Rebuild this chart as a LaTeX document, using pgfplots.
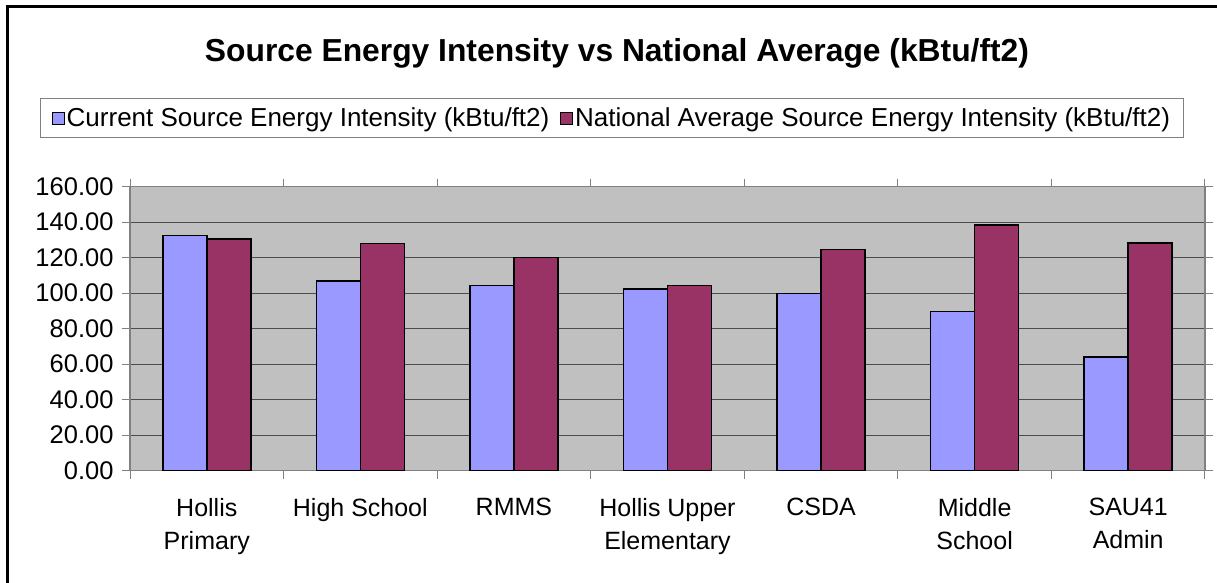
\documentclass[border=0pt]{standalone}
\usepackage{pgfplots}
\pgfplotsset{compat=1.18}
\usepackage{fontspec}
\setmainfont{Liberation Sans}
\definecolor{barblue}{HTML}{9999FF}
\definecolor{barmaroon}{HTML}{993366}
\definecolor{plotbg}{HTML}{C0C0C0}
\definecolor{frameg}{HTML}{808080}
\begin{document}
\begin{tikzpicture}
\useasboundingbox (0,0) rectangle (1217pt,582pt);
\begin{axis}[
  at={(130pt,111.3pt)}, anchor=south west,
  scale only axis, width=1075pt, height=284pt,
  ybar=0pt, bar width=0.2865,
  xmin=-0.5, xmax=6.5, ymin=0, ymax=160,
  ytick={0,20,...,160},
  xtick={0,...,6},
  xticklabels={Hollis\\Primary, High School, RMMS, Hollis Upper\\Elementary, CSDA, Middle\\School, SAU41\\Admin},
  xticklabel style={align=center, font=\fontsize{25}{33}\selectfont, anchor=north, yshift=-16pt},
  minor xtick={-0.5,0.5,...,6.5},
  tick align=outside,
  major tick length=8pt, minor tick length=8pt,
  tick style={draw=frameg, line width=1pt},
  major x tick style={draw=none},
  /pgf/number format/assume math mode=true,
  yticklabel style={/pgf/number format/fixed, /pgf/number format/fixed zerofill, /pgf/number format/precision=2, font=\fontsize{25.5}{30}\selectfont, xshift=-5pt},
  ymajorgrids, major grid style={draw=black!70, line width=1pt},
  axis background/.style={fill=plotbg},
  axis line style={draw=frameg, line width=1.2pt},
  legend style={at={(0.4484,1.242)}, anchor=center, legend columns=2, draw=frameg, line width=1pt, font=\fontsize{26}{30}\selectfont, inner xsep=11pt, inner ysep=7pt, /tikz/every even column/.append style={column sep=9pt}},
  legend cell align=left,
  legend image code/.code={\draw[#1, line width=0.8pt] (0pt,-6pt) rectangle (12pt,6pt);},
]
\addplot[fill=barblue, draw=black, line width=1.6pt] coordinates {(0,132.6) (1,106.9) (2,104.4) (3,102.4) (4,99.9) (5,89.8) (6,64.1)};
\addplot[fill=barmaroon, draw=black, line width=1.6pt] coordinates {(0,130.4) (1,128.1) (2,120.2) (3,104.4) (4,124.7) (5,138.4) (6,128.3)};
\legend{Current Source Energy Intensity (kBtu/ft2), National Average Source Energy Intensity (kBtu/ft2)}
\end{axis}
\node[font=\bfseries\fontsize{31.8}{36}\selectfont] at (617pt,529pt) {Source Energy Intensity vs National Average (kBtu/ft2)};
\draw[line width=3pt, black] (7pt,-20pt) -- (7pt,575pt) -- (1240pt,575pt);
\end{tikzpicture}
\end{document}
